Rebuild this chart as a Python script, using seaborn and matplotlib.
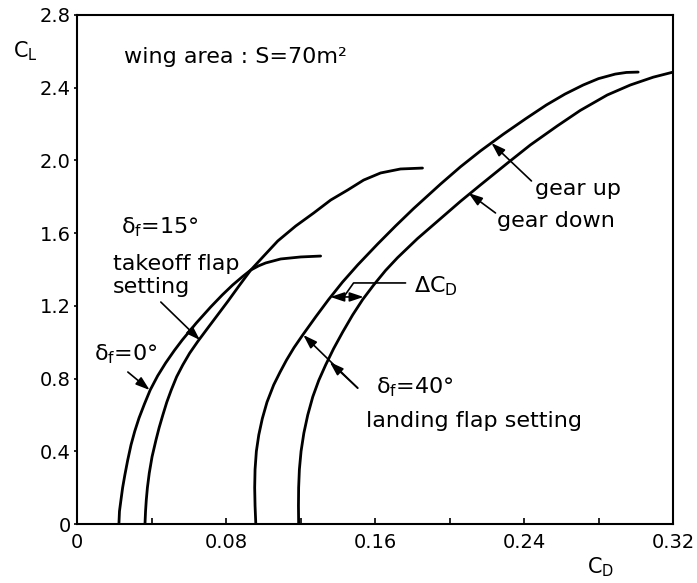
import numpy as np
import pandas as pd
import matplotlib
matplotlib.use("Agg")
import matplotlib.pyplot as plt
import seaborn as sns

sns.set_theme(style="ticks")
plt.rcParams['font.family'] = ['DejaVu Sans']
plt.rcParams['mathtext.fontset'] = 'dejavusans'
for key in ['text.color', 'axes.labelcolor', 'xtick.color', 'ytick.color', 'axes.edgecolor']:
    plt.rcParams[key] = 'black'

# drag polars: C_D (x) and C_L (y)
cd_flap0 = [0.0225, 0.0228, 0.0236, 0.0245, 0.0257, 0.0272, 0.0290, 0.0310, 0.0333,
            0.0362, 0.0393, 0.0433, 0.0476, 0.0523, 0.0565, 0.0640, 0.0718, 0.0780,
            0.0836, 0.0890, 0.0933, 0.0975, 0.1013, 0.1094, 0.1201, 0.1308]
cl_flap0 = [0.000, 0.070, 0.132, 0.200, 0.270, 0.350, 0.435, 0.510, 0.583,
            0.660, 0.737, 0.815, 0.886, 0.955, 1.012, 1.105, 1.194, 1.260,
            1.315, 1.362, 1.397, 1.420, 1.436, 1.458, 1.469, 1.474]

cd_flap15 = [0.0365, 0.0368, 0.0372, 0.0378, 0.0388, 0.0403, 0.0424, 0.0441, 0.0461,
             0.0482, 0.0506, 0.0535, 0.0568, 0.0605, 0.0649, 0.0700, 0.0755, 0.0810,
             0.0870, 0.0933, 0.1008, 0.1078, 0.1174, 0.1271, 0.1362, 0.1453, 0.1539,
             0.1630, 0.1737, 0.1855]
cl_flap15 = [0.000, 0.070, 0.132, 0.200, 0.280, 0.370, 0.462, 0.530, 0.600,
             0.670, 0.737, 0.810, 0.875, 0.940, 1.005, 1.075, 1.150, 1.225,
             1.310, 1.397, 1.480, 1.557, 1.639, 1.711, 1.782, 1.837, 1.892,
             1.931, 1.953, 1.958]

cd_gear_up = [0.0960, 0.0956, 0.0954, 0.0956, 0.0963, 0.0976, 0.0995, 0.1020, 0.1056,
              0.1090, 0.1125, 0.1165, 0.1212, 0.1282, 0.1351, 0.1425, 0.1507, 0.1614,
              0.1711, 0.1807, 0.1952, 0.2059, 0.2166, 0.2290, 0.2410, 0.2520, 0.2620,
              0.2718, 0.2800, 0.2890, 0.2950, 0.3013]
cl_gear_up = [0.000, 0.100, 0.200, 0.300, 0.400, 0.490, 0.580, 0.670, 0.765,
              0.835, 0.902, 0.970, 1.040, 1.140, 1.235, 1.330, 1.425, 1.540,
              1.640, 1.735, 1.870, 1.965, 2.052, 2.145, 2.230, 2.305, 2.365,
              2.415, 2.450, 2.475, 2.484, 2.486]

cd_gear_down = [0.1190, 0.1189, 0.1190, 0.1194, 0.1203, 0.1218, 0.1239, 0.1266, 0.1298,
                0.1335, 0.1378, 0.1426, 0.1480, 0.1534, 0.1593, 0.1657, 0.1721, 0.1828,
                0.1952, 0.2059, 0.2166, 0.2311, 0.2434, 0.2579, 0.2702, 0.2847, 0.2971,
                0.3094, 0.3201]
cl_gear_down = [0.000, 0.100, 0.200, 0.300, 0.400, 0.500, 0.600, 0.700, 0.790,
                0.875, 0.965, 1.055, 1.150, 1.235, 1.315, 1.395, 1.465, 1.570,
                1.680, 1.775, 1.865, 1.985, 2.085, 2.190, 2.275, 2.360, 2.415,
                2.458, 2.486]

curves = {
    "flap0": (cd_flap0, cl_flap0),
    "flap15": (cd_flap15, cl_flap15),
    "gear_up": (cd_gear_up, cl_gear_up),
    "gear_down": (cd_gear_down, cl_gear_down),
}

x_ticks = [0.0, 0.04, 0.08, 0.12, 0.16, 0.20, 0.24, 0.28, 0.32]
x_ticklabels = ["0", "", "0.08", "", "0.16", "", "0.24", "", "0.32"]
y_ticks = [0.0, 0.4, 0.8, 1.2, 1.6, 2.0, 2.4, 2.8]
y_ticklabels = ["0", "0.4", "0.8", "1.2", "1.6", "2.0", "2.4", "2.8"]

fig = plt.figure(figsize=(6.97, 5.83), dpi=100)
ax = fig.add_axes([77 / 697, 59 / 583, 596 / 697, 509 / 583])

for name, (cd, cl) in curves.items():
    df = pd.DataFrame({"CD": cd, "CL": cl})
    sns.lineplot(data=df, x="CD", y="CL", sort=False, estimator=None,
                 color="black", lw=2.0, ax=ax)

ax.set_xlim(0, 0.32)
ax.set_ylim(0, 2.8)
ax.set_xticks(x_ticks)
ax.set_xticklabels(x_ticklabels)
ax.set_yticks(y_ticks)
ax.set_yticklabels(y_ticklabels)
ax.set_xlabel("")
ax.set_ylabel("")
ax.tick_params(axis="x", direction="in", length=4, width=1.2, pad=6.5,
               labelsize=14, colors="black")
ax.tick_params(axis="y", direction="out", length=2.5, width=1.2, pad=2,
               labelsize=14, colors="black")
for sp in ax.spines.values():
    sp.set_visible(True)
    sp.set_linewidth(1.5)
    sp.set_color("black")

fig.text(13 / 697, 1 - 57 / 583, r"C$_\mathrm{L}$", fontsize=15, ha="left", va="baseline")
fig.text(587 / 697, 1 - 573 / 583, r"C$_\mathrm{D}$", fontsize=15, ha="left", va="baseline")

fs = 16
ax.text(0.0252, 2.536, "wing area : S=70m²", fontsize=fs, va="baseline")
ax.text(0.0236, 1.601, r"δ$_\mathrm{f}$=15°", fontsize=fs, va="baseline")
ax.text(0.0193, 1.397, "takeoff flap", fontsize=fs, va="baseline")
ax.text(0.0193, 1.271, "setting", fontsize=fs, va="baseline")
ax.text(0.0091, 0.902, r"δ$_\mathrm{f}$=0°", fontsize=fs, va="baseline")
ax.text(0.1807, 1.276, r"ΔC$_\mathrm{D}$", fontsize=fs, va="baseline")
ax.text(0.1603, 0.721, r"δ$_\mathrm{f}$=40°", fontsize=fs, va="baseline")
ax.text(0.1550, 0.534, "landing flap setting", fontsize=fs, va="baseline")
ax.text(0.2461, 1.810, "gear up", fontsize=fs, va="baseline")
ax.text(0.2257, 1.634, "gear down", fontsize=fs, va="baseline")

arrow = dict(arrowstyle="-|>,head_length=0.6,head_width=0.2", color="black",
             lw=1.2, mutation_scale=14, shrinkA=0, shrinkB=0)
ax.annotate("", xy=(0.0660, 1.012), xytext=(0.0450, 1.221), arrowprops=arrow)
ax.annotate("", xy=(0.0390, 0.737), xytext=(0.0273, 0.836), arrowprops=arrow)
ax.annotate("", xy=(0.1215, 1.040), xytext=(0.1507, 0.748), arrowprops=arrow)
ax.annotate("", xy=(0.1357, 0.891), xytext=(0.1507, 0.748), arrowprops=arrow)
ax.annotate("", xy=(0.2225, 2.096), xytext=(0.2440, 1.887), arrowprops=arrow)
ax.annotate("", xy=(0.2102, 1.821), xytext=(0.2247, 1.711), arrowprops=arrow)

# delta C_D dimension between the landing polars
dbl = dict(arrowstyle="<|-|>,head_length=0.6,head_width=0.2", color="black",
           lw=1.2, mutation_scale=14, shrinkA=0, shrinkB=0)
ax.annotate("", xy=(0.1360, 1.249), xytext=(0.1539, 1.249), arrowprops=dbl)
ax.plot([0.1764, 0.1485, 0.1432], [1.326, 1.326, 1.249], color="black", lw=1.2)

fig.savefig("out.png", dpi=100)
